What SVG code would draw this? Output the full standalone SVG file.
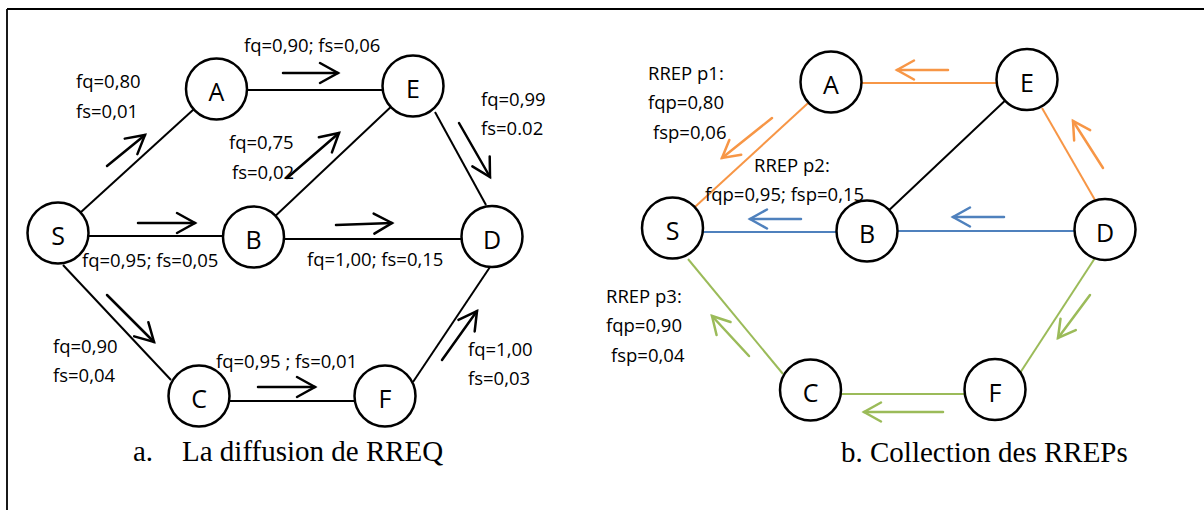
<svg xmlns="http://www.w3.org/2000/svg" width="1204" height="510" viewBox="0 0 1204 510">
<style>
.bg{fill:#fff}
.frame{stroke:#000;stroke-width:1.8;fill:none}
.node circle{fill:#fff;stroke:#000;stroke-width:2.5}
.node text{font-family:"Open Sans","Liberation Sans",sans-serif;font-size:25px;text-anchor:middle;fill:#000}
.lbl{font-family:"Open Sans","Liberation Sans",sans-serif;font-size:18.5px;fill:#000}
.cap{font-family:"Liberation Serif","Times New Roman",serif;font-size:29px;fill:#000}
.e{stroke:#000;stroke-width:2;fill:none}
.eo{stroke:#F79646;stroke-width:2;fill:none}
.eb{stroke:#4F81BD;stroke-width:2;fill:none}
.eg{stroke:#9BBB59;stroke-width:2;fill:none}
.ak{stroke:#000;stroke-width:2.5;fill:none;stroke-linecap:round}
.ao{stroke:#F79646;stroke-width:2.5;fill:none;stroke-linecap:round}
.ab{stroke:#4F81BD;stroke-width:2.5;fill:none;stroke-linecap:round}
.ag{stroke:#9BBB59;stroke-width:2.5;fill:none;stroke-linecap:round}
</style>
<defs>
<marker id="mk" markerUnits="userSpaceOnUse" orient="auto" refX="0" refY="0" markerWidth="30" markerHeight="30" overflow="visible"><path d="M-18,-10 L0,0 L-18,10" fill="none" stroke="#000" stroke-width="2.5" stroke-linecap="round" stroke-linejoin="miter"/></marker>
<marker id="mo" markerUnits="userSpaceOnUse" orient="auto" refX="0" refY="0" markerWidth="30" markerHeight="30" overflow="visible"><path d="M-17,-9.5 L0,0 L-17,9.5" fill="none" stroke="#F79646" stroke-width="2.5" stroke-linecap="round"/></marker>
<marker id="mb" markerUnits="userSpaceOnUse" orient="auto" refX="0" refY="0" markerWidth="30" markerHeight="30" overflow="visible"><path d="M-17,-9.5 L0,0 L-17,9.5" fill="none" stroke="#4F81BD" stroke-width="2.5" stroke-linecap="round"/></marker>
<marker id="mg" markerUnits="userSpaceOnUse" orient="auto" refX="0" refY="0" markerWidth="30" markerHeight="30" overflow="visible"><path d="M-17,-9.5 L0,0 L-17,9.5" fill="none" stroke="#9BBB59" stroke-width="2.5" stroke-linecap="round"/></marker>
</defs>
<rect class="bg" x="0" y="0" width="1204" height="510"/>
<g id="frame">
<line class="frame" x1="7" y1="9" x2="1204" y2="9"/>
<line class="frame" x1="7" y1="9" x2="7" y2="510"/>
</g>
<g id="connectors">
<!-- left edges -->
<line class="e" x1="58" y1="233" x2="216" y2="89"/>
<line class="e" x1="247" y1="90" x2="383" y2="90"/>
<line class="e" x1="413" y1="86" x2="253" y2="237"/>
<line class="e" x1="435" y1="112" x2="486" y2="205"/>
<line class="e" x1="89" y1="236" x2="223" y2="236"/>
<line class="e" x1="284" y1="239" x2="462" y2="239"/>
<line class="e" x1="63" y1="265" x2="171" y2="380"/>
<line class="e" x1="230" y1="401" x2="355" y2="401"/>
<line class="e" x1="413" y1="382" x2="490" y2="267"/>
<!-- left arrows -->
<line class="ak" x1="107" y1="166" x2="145" y2="135" marker-end="url(#mk)"/>
<line class="ak" x1="283" y1="73" x2="338" y2="73" marker-end="url(#mk)"/>
<line class="ak" x1="287" y1="178" x2="339" y2="133" marker-end="url(#mk)"/>
<line class="ak" x1="459" y1="123" x2="490" y2="177" marker-end="url(#mk)"/>
<line class="ak" x1="138" y1="223" x2="195" y2="223" marker-end="url(#mk)"/>
<line class="ak" x1="336" y1="225" x2="392" y2="223" marker-end="url(#mk)"/>
<line class="ak" x1="107" y1="295" x2="154" y2="342" marker-end="url(#mk)"/>
<line class="ak" x1="258" y1="387" x2="315" y2="387" marker-end="url(#mk)"/>
<line class="ak" x1="442" y1="360" x2="477" y2="311" marker-end="url(#mk)"/>
<!-- right edges -->
<line class="eo" x1="862" y1="83" x2="997" y2="83"/>
<line class="eo" x1="831" y1="82" x2="672" y2="228"/>
<line class="e" x1="1027" y1="80" x2="867" y2="231"/>
<line class="eo" x1="1042" y1="108" x2="1095" y2="200"/>
<line class="eb" x1="703" y1="232" x2="837" y2="232"/>
<line class="eb" x1="897" y1="231" x2="1074" y2="231"/>
<line class="eg" x1="688" y1="259" x2="783" y2="374"/>
<line class="eg" x1="841" y1="394" x2="964" y2="394"/>
<line class="eg" x1="1095" y1="258" x2="1020" y2="373"/>
<!-- right arrows -->
<line class="ao" x1="948" y1="70" x2="897" y2="70" marker-end="url(#mo)"/>
<line class="ao" x1="772" y1="118" x2="722" y2="158" marker-end="url(#mo)"/>
<line class="ao" x1="1103" y1="168" x2="1073" y2="121" marker-end="url(#mo)"/>
<line class="ab" x1="801" y1="219" x2="750" y2="219" marker-end="url(#mb)"/>
<line class="ab" x1="1004" y1="217" x2="953" y2="217" marker-end="url(#mb)"/>
<line class="ag" x1="749" y1="356" x2="712" y2="316" marker-end="url(#mg)"/>
<line class="ag" x1="943" y1="412" x2="864" y2="412" marker-end="url(#mg)"/>
<line class="ag" x1="1090" y1="295" x2="1058" y2="338" marker-end="url(#mg)"/>
</g>
<g id="left-S" class="node"><circle cx="58" cy="233" r="30.5"/><text x="58" y="245">S</text></g>
<g id="left-A" class="node"><circle cx="216.5" cy="89" r="30.5"/><text x="216.5" y="101">A</text></g>
<g id="left-E" class="node"><circle cx="413" cy="86" r="30.5"/><text x="413" y="98">E</text></g>
<g id="left-B" class="node"><circle cx="253.5" cy="237" r="30.5"/><text x="253.5" y="249">B</text></g>
<g id="left-D" class="node"><circle cx="492" cy="236.5" r="30.5"/><text x="492" y="248.5">D</text></g>
<g id="left-C" class="node"><circle cx="199" cy="396" r="30.5"/><text x="199" y="408">C</text></g>
<g id="left-F" class="node"><circle cx="385" cy="396" r="30.5"/><text x="385" y="408">F</text></g>
<g id="right-A" class="node"><circle cx="831" cy="82" r="30.5"/><text x="831" y="94">A</text></g>
<g id="right-E" class="node"><circle cx="1027" cy="79.5" r="30.5"/><text x="1027" y="91.5">E</text></g>
<g id="right-S" class="node"><circle cx="672.5" cy="228" r="30.5"/><text x="672.5" y="240">S</text></g>
<g id="right-B" class="node"><circle cx="867" cy="231" r="30.5"/><text x="867" y="243">B</text></g>
<g id="right-D" class="node"><circle cx="1105" cy="229.5" r="30.5"/><text x="1105" y="241.5">D</text></g>
<g id="right-C" class="node"><circle cx="810.5" cy="390" r="30.5"/><text x="810.5" y="402">C</text></g>
<g id="right-F" class="node"><circle cx="995" cy="389.5" r="30.5"/><text x="995" y="401.5">F</text></g>
<g id="labels">
<text class="lbl" x="76" y="88">fq=0,80</text>
<text class="lbl" x="76" y="118">fs=0,01</text>
<text class="lbl" x="244" y="52">fq=0,90; fs=0,06</text>
<text class="lbl" x="229" y="149">fq=0,75</text>
<text class="lbl" x="232" y="179">fs=0,02</text>
<text class="lbl" x="481" y="106">fq=0,99</text>
<text class="lbl" x="481" y="135">fs=0.02</text>
<text class="lbl" x="82" y="267">fq=0,95; fs=0,05</text>
<text class="lbl" x="307" y="266">fq=1,00; fs=0,15</text>
<text class="lbl" x="53" y="353">fq=0,90</text>
<text class="lbl" x="53" y="382">fs=0,04</text>
<text class="lbl" x="216" y="368">fq=0,95 ; fs=0,01</text>
<text class="lbl" x="468" y="356">fq=1,00</text>
<text class="lbl" x="468" y="385">fs=0,03</text>
<text class="lbl" x="648" y="80">RREP p1:</text>
<text class="lbl" x="648" y="109">fqp=0,80</text>
<text class="lbl" x="653" y="139">fsp=0,06</text>
<text class="lbl" x="754" y="172">RREP p2:</text>
<text class="lbl" x="705" y="201">fqp=0,95; fsp=0,15</text>
<text class="lbl" x="606" y="303">RREP p3:</text>
<text class="lbl" x="606" y="332">fqp=0,90</text>
<text class="lbl" x="611" y="362">fsp=0,04</text>
<text class="cap" x="133" y="461">a.</text>
<text class="cap" x="182" y="461">La diffusion de RREQ</text>
<text class="cap" x="841" y="462">b. Collection des RREPs</text>
</g>
</svg>
